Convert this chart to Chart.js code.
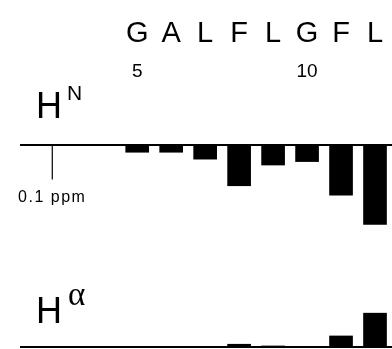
<!DOCTYPE html>
<html>
<head>
<meta charset="utf-8">
<script src="https://cdn.jsdelivr.net/npm/chart.js@4.4.1/dist/chart.umd.min.js"></script>
<style>
  html, body { margin: 0; padding: 0; background: #fff; }
  #wrap { position: relative; width: 392px; height: 349px; overflow: hidden; background: #fff; }
  canvas { position: absolute; left: 0; }
  #hnChart { top: 0; }
  #haChart { top: 250px; }
</style>
</head>
<body>
<div id="wrap">
  <canvas id="hnChart" width="392" height="250"></canvas>
  <canvas id="haChart" width="392" height="99"></canvas>
</div>
<script>
// residue numbers and one-letter sequence
const residues = [5, 6, 7, 8, 9, 10, 11, 12];
const sequence = ["G", "A", "L", "F", "L", "G", "F", "L"];
const numberedResidues = [5, 10];
// chemical shift differences, ppm
const shiftHN = [-0.021, -0.021, -0.041, -0.118, -0.058, -0.048, -0.145, -0.230];
const shiftHA = [0, 0, 0, 0.008, 0.003, 0, 0.032, 0.098];
// scale bar
const scaleBarResidue = 2.5;
const scaleBarPpm = 0.1;
const scaleBarLabel = "0.1 ppm";

const FONT = "'Liberation Sans', Arial, sans-serif";
const xMin = 1.55, xMax = 12.5;

const panelLabel = {
  id: "panelLabel",
  afterDraw(chart, args, opts) {
    const ctx = chart.ctx;
    ctx.save();
    ctx.fillStyle = "#000";
    ctx.textBaseline = "alphabetic";
    ctx.textAlign = "left";
    ctx.font = "36px " + FONT;
    ctx.fillText("H", opts.x, opts.y);
    ctx.font = opts.supFont;
    ctx.fillText(opts.sup, opts.x + opts.supDx, opts.y + opts.supDy);
    if (opts.scaleBar) {
      const px = chart.scales.x.getPixelForValue(scaleBarResidue);
      const py = chart.scales.y.getPixelForValue(-scaleBarPpm);
      ctx.font = "16px " + FONT;
      ctx.textAlign = "center";
      ctx.letterSpacing = "1.5px";
      ctx.fillText(scaleBarLabel, px, py + 22);
    }
    ctx.restore();
  }
};

function zeroLineAxis(min, max) {
  return {
    min: min,
    max: max,
    afterBuildTicks: (s) => { s.ticks = [{ value: 0 }]; },
    ticks: { display: false },
    border: { display: false },
    grid: { drawTicks: false, color: "#000", lineWidth: 2 }
  };
}

function topAxis(ticksAt, label, size, height, pad, weight) {
  return {
    type: "linear",
    axis: "x",
    position: "top",
    min: xMin,
    max: xMax,
    offset: false,
    weight: weight,
    afterBuildTicks: (s) => { s.ticks = ticksAt.map(v => ({ value: v })); },
    afterFit: (s) => { s.height = height; },
    grid: { display: false, drawTicks: false },
    border: { display: false },
    ticks: {
      autoSkip: false,
      maxRotation: 0,
      padding: pad,
      color: "#000",
      font: { family: FONT, size: size },
      callback: label
    }
  };
}

const barStyle = {
  backgroundColor: "#000",
  borderWidth: 0,
  barThickness: 23
};

const hiddenX = { type: "linear", min: xMin, max: xMax, offset: false, display: false };

new Chart(document.getElementById("hnChart"), {
  data: {
    datasets: [
      Object.assign({
        type: "bar",
        data: residues.map((r, i) => ({ x: r, y: shiftHN[i] }))
      }, barStyle),
      {
        type: "line",
        data: [{ x: scaleBarResidue, y: 0 }, { x: scaleBarResidue, y: -scaleBarPpm }],
        borderColor: "#000",
        borderWidth: 1.2,
        pointRadius: 0
      }
    ]
  },
  options: {
    responsive: false,
    animation: false,
    layout: { padding: { left: 20, right: 0, top: 0, bottom: 0 } },
    plugins: {
      legend: { display: false },
      tooltip: { enabled: false },
      panelLabel: { x: 36, y: 118, sup: "N", supFont: "21px " + FONT, supDx: 31, supDy: -18, scaleBar: true }
    },
    scales: {
      x: hiddenX,
      xRes: topAxis(residues, (v) => sequence[residues.indexOf(v)], 29, 52, 0.6, 2),
      xNum: topAxis(numberedResidues, (v) => String(v), 19, 36, 4.6, 1),
      y: zeroLineAxis(-0.304, 0.165)
    }
  },
  plugins: [panelLabel]
});

new Chart(document.getElementById("haChart"), {
  data: {
    datasets: [
      Object.assign({
        type: "bar",
        data: residues.map((r, i) => ({ x: r, y: shiftHA[i] }))
      }, barStyle)
    ]
  },
  options: {
    responsive: false,
    animation: false,
    layout: { padding: { left: 20, right: 0, top: 0, bottom: 0 } },
    plugins: {
      legend: { display: false },
      tooltip: { enabled: false },
      panelLabel: { x: 36, y: 73, sup: "\u03b1", supFont: "33px 'Liberation Serif', serif", supDx: 32, supDy: -18 }
    },
    scales: {
      x: hiddenX,
      y: zeroLineAxis(-0.0058, 0.281)
    }
  },
  plugins: [panelLabel]
});
</script>
</body>
</html>
